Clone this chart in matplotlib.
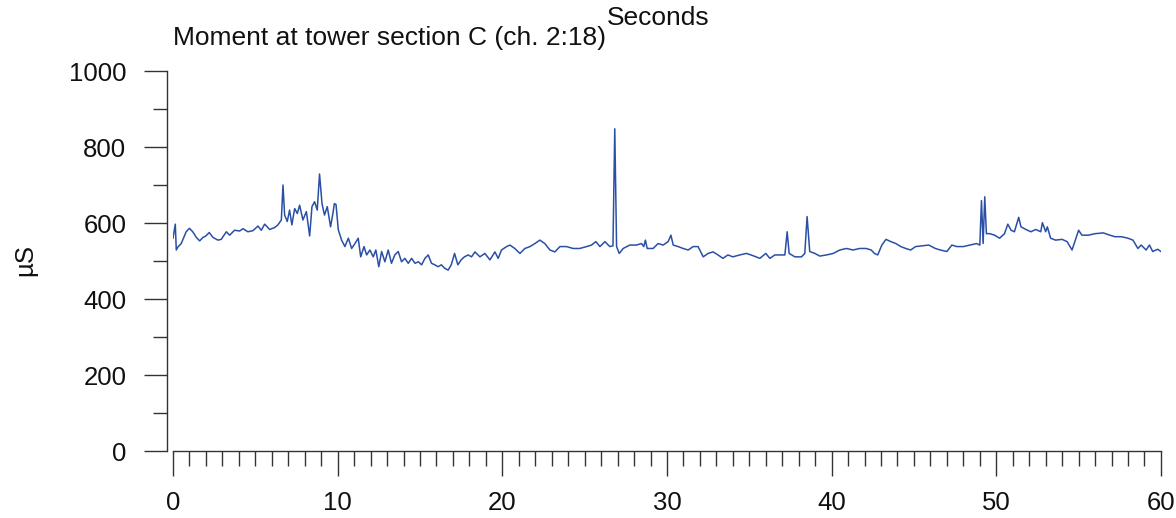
import numpy as np
import matplotlib
matplotlib.use("Agg")
import matplotlib.pyplot as plt
from matplotlib.ticker import MultipleLocator

plt.rcParams['font.family'] = ['Liberation Sans', 'DejaVu Sans']

# time (s) and moment (uS)
t_sec = [0.0, 0.14, 0.2, 0.3, 0.5, 0.8, 1.0, 1.2, 1.42, 1.62, 1.82, 2.0, 2.2, 2.43, 2.73, 2.93,
         3.24, 3.44, 3.74, 4.05, 4.25, 4.55, 4.86, 5.16, 5.36, 5.57, 5.87, 6.17, 6.37, 6.58,
         6.68, 6.78, 6.94, 7.08, 7.22, 7.39, 7.55, 7.69, 7.89, 8.1, 8.3, 8.44, 8.6, 8.76,
         8.9, 9.05, 9.2, 9.37, 9.57, 9.71, 9.8, 9.9, 10.04, 10.24, 10.44, 10.65, 10.85,
         11.05, 11.25, 11.4, 11.6, 11.76, 11.96, 12.16, 12.32, 12.5, 12.67, 12.87, 13.07,
         13.27, 13.47, 13.68, 13.88, 14.08, 14.29, 14.49, 14.7, 14.9, 15.1, 15.3, 15.5,
         15.7, 15.9, 16.1, 16.3, 16.5, 16.71, 16.9, 17.1, 17.3, 17.5, 17.7, 17.93, 18.13,
         18.34, 18.64, 18.94, 19.25, 19.55, 19.75, 19.95, 20.26, 20.46, 20.76, 21.07,
         21.37, 21.68, 21.98, 22.28, 22.58, 22.89, 23.19, 23.5, 23.9, 24.3, 24.7, 25.12,
         25.42, 25.68, 25.93, 26.23, 26.53, 26.72, 26.83, 26.94, 27.1, 27.34, 27.74,
         28.15, 28.45, 28.59, 28.69, 28.8, 29.16, 29.46, 29.77, 30.07, 30.24, 30.38,
         30.68, 30.98, 31.29, 31.59, 31.89, 32.2, 32.5, 32.8, 33.1, 33.4, 33.7, 34.0,
         34.42, 34.83, 35.23, 35.64, 36.0, 36.25, 36.55, 36.86, 37.16, 37.3, 37.42,
         37.77, 38.17, 38.37, 38.51, 38.67, 38.98, 39.28, 39.69, 40.1, 40.5, 40.9, 41.3,
         41.7, 42.1, 42.4, 42.6, 42.8, 43.05, 43.3, 43.6, 43.9, 44.2, 44.5, 44.8, 45.1,
         45.5, 45.9, 46.3, 46.6, 47.0, 47.3, 47.6, 48.0, 48.4, 48.8, 49.0, 49.1, 49.2,
         49.3, 49.4, 49.6, 49.9, 50.2, 50.5, 50.7, 50.9, 51.1, 51.36, 51.5, 51.8, 52.1,
         52.4, 52.7, 52.8, 53.0, 53.1, 53.3, 53.6, 54.0, 54.3, 54.6, 54.8, 55.0, 55.2,
         55.6, 56.0, 56.5, 56.9, 57.2, 57.6, 58.0, 58.3, 58.6, 58.8, 59.1, 59.3, 59.5,
         59.8, 60.0]
moment = [560, 597, 529, 537, 546, 577, 586, 577, 562, 553, 562, 566, 575, 562, 555, 557,
          577, 568, 581, 579, 585, 577, 580, 592, 581, 597, 583, 588, 595, 608,
          700, 621, 604, 634, 595, 638, 625, 647, 608, 630, 566, 643, 656, 634,
          729, 651, 621, 643, 590, 625, 651, 649, 582, 555, 538, 560, 533,
          546, 560, 511, 538, 516, 529, 511, 529, 485, 525, 498, 529,
          494, 516, 525, 498, 507, 494, 507, 494, 498, 490, 507, 516,
          494, 490, 485, 490, 481, 476, 490, 520, 490, 503, 511, 516, 511,
          524, 511, 520, 503, 524, 507, 529, 538, 542, 533, 520,
          533, 538, 546, 555, 546, 529, 524, 538, 538, 533, 533, 538,
          542, 551, 538, 551, 538, 540, 848, 538, 520, 533, 542,
          542, 546, 538, 555, 533, 533, 546, 542, 551, 568, 542,
          538, 533, 529, 538, 538, 511, 520, 524, 516, 507, 516, 511,
          516, 520, 514, 507, 520, 507, 516, 516, 516, 577, 520,
          511, 511, 520, 617, 525, 520, 513, 516, 520, 529, 533, 529,
          533, 533, 529, 520, 516, 542, 557, 551, 546, 538, 533, 529, 538,
          540, 542, 533, 529, 525, 542, 538, 538, 542, 546, 542, 659, 546,
          669, 572, 572, 568, 560, 572, 597, 581, 577, 615, 590, 583, 577,
          583, 577, 601, 577, 590, 560, 555, 557, 551, 529, 555, 581, 568,
          568, 572, 574, 568, 564, 564, 560, 555, 533, 542, 529, 542, 525,
          531, 525]

fig = plt.figure(figsize=(11.76, 5.18), dpi=100, facecolor="white")
ax = fig.add_axes([0.1471, 0.1293, 0.8401, 0.7336])

ax.plot(t_sec, moment, color='#2a4fa6', lw=1.1)

ax.set_xlim(0, 60)
ax.set_ylim(0, 1000)
ax.spines['top'].set_visible(False)
ax.spines['right'].set_visible(False)
ax.spines['left'].set_position(('outward', 4))
ax.spines['left'].set_bounds(0, 1000)
ax.spines['bottom'].set_bounds(0, 60)
for s in ('left', 'bottom'):
    ax.spines[s].set_color('#333333')
    ax.spines[s].set_linewidth(1.0)

ax.xaxis.set_major_locator(MultipleLocator(10))
ax.xaxis.set_minor_locator(MultipleLocator(1))
ax.yaxis.set_major_locator(MultipleLocator(200))
ax.yaxis.set_minor_locator(MultipleLocator(100))
ax.tick_params(axis='both', which='major', direction='out', color='#333333',
               labelsize=18.5, labelcolor='#111111')
ax.tick_params(axis='x', which='major', length=18, width=1.0, pad=11)
ax.tick_params(axis='x', which='minor', length=11, width=1.0, color='#333333')
ax.tick_params(axis='y', which='major', length=16.5, width=1.0, pad=13)
ax.tick_params(axis='y', which='minor', length=10, width=1.0, color='#333333')

fig.text(173 / 1176, 1 - 45 / 518, "Moment at tower section C (ch. 2:18)",
         fontsize=19, color='#111111', ha='left', va='baseline')
fig.text(607 / 1176, 1 - 25 / 518, "Seconds",
         fontsize=19, color='#111111', ha='left', va='baseline')
fig.text(25 / 1176, 1 - 260 / 518, "µS", fontsize=18.5, color='#111111',
         rotation=90, ha='center', va='center')

fig.savefig("out.png", dpi=100)
